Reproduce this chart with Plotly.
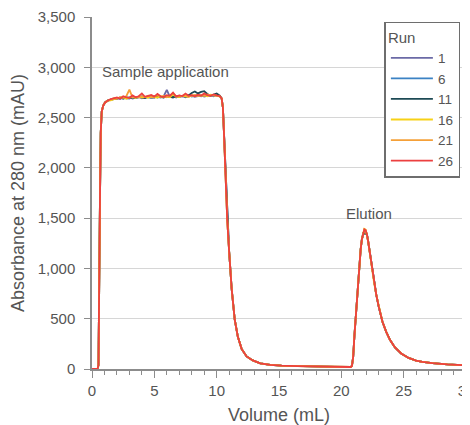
import plotly.graph_objects as go

# ---- data ----
runs = ["1", "6", "11", "16", "21", "26"]
run_colors = ["#6b6aa6", "#3b82c4", "#1d4a55", "#f7d117", "#f5a038", "#ec4040"]

# loading front (shared by all runs)
volume_rise = [0, 0.45, 0.52, 0.58, 0.64, 0.70, 0.78, 0.90, 1.05, 1.25]
absorbance_rise = [0, 0, 40, 600, 1700, 2350, 2560, 2620, 2650, 2668]

# plateau during sample application
volume_plateau = [1.5, 1.75, 2.0, 2.25, 2.5, 2.75, 3.0, 3.25, 3.5, 3.75, 4.0, 4.25,
                  4.5, 4.75, 5.0, 5.25, 5.5, 5.75, 6.0, 6.25, 6.5, 6.75, 7.0, 7.25,
                  7.5, 7.75, 8.0, 8.25, 8.5, 8.75, 9.0, 9.25, 9.5, 9.75, 10.0, 10.25]
plateau_run1 = [2682, 2690, 2685, 2700, 2688, 2695, 2702, 2690, 2698, 2705, 2692, 2700,
                2710, 2696, 2702, 2708, 2698, 2712, 2775, 2705, 2700, 2712, 2704, 2715,
                2702, 2710, 2718, 2706, 2712, 2720, 2710, 2716, 2722, 2712, 2725, 2715]
plateau_run6 = [2678, 2688, 2695, 2684, 2700, 2692, 2688, 2705, 2695, 2700, 2712, 2698,
                2704, 2695, 2712, 2700, 2708, 2702, 2715, 2706, 2712, 2700, 2718, 2708,
                2714, 2722, 2710, 2716, 2724, 2712, 2720, 2726, 2714, 2722, 2718, 2712]
plateau_run11 = [2676, 2686, 2692, 2698, 2690, 2700, 2694, 2702, 2696, 2705, 2700, 2694,
                 2708, 2702, 2698, 2710, 2704, 2700, 2712, 2706, 2702, 2714, 2708, 2716,
                 2710, 2720, 2745, 2760, 2740, 2755, 2762, 2735, 2720, 2728, 2740, 2718]
plateau_run16 = [2672, 2684, 2690, 2696, 2704, 2688, 2698, 2708, 2694, 2710, 2700, 2706,
                 2696, 2714, 2704, 2700, 2712, 2706, 2716, 2702, 2730, 2710, 2704, 2718,
                 2712, 2706, 2720, 2714, 2726, 2716, 2722, 2712, 2728, 2720, 2714, 2710]
plateau_run21 = [2680, 2692, 2688, 2702, 2696, 2712, 2778, 2700, 2706, 2698, 2712, 2704,
                 2716, 2700, 2710, 2722, 2706, 2714, 2702, 2718, 2744, 2708, 2716, 2712,
                 2722, 2710, 2718, 2726, 2714, 2722, 2716, 2730, 2718, 2724, 2716, 2712]
plateau_run26 = [2684, 2690, 2700, 2688, 2712, 2700, 2694, 2720, 2702, 2712, 2740, 2706,
                 2716, 2724, 2708, 2735, 2712, 2704, 2722, 2716, 2748, 2710, 2720, 2714,
                 2738, 2716, 2722, 2712, 2728, 2718, 2740, 2722, 2716, 2730, 2720, 2714]

# wash-out after sample application (shared)
volume_wash = [10.4, 10.5, 10.6, 10.7, 10.85, 11.0, 11.2, 11.45, 11.7, 12.0, 12.4,
               12.9, 13.5, 14.3, 15.2, 16.5, 18.0, 19.5, 20.6, 20.75]
absorbance_wash = [2690, 2600, 2300, 1950, 1480, 1170, 800, 490, 320, 200, 125,
                   85, 57, 42, 33, 28, 24, 21, 20, 20]

# elution peak: rising flank (shared), apex per run, tail (shared)
volume_elution_rise = [20.85, 20.95, 21.05, 21.15, 21.25, 21.35, 21.45, 21.55, 21.65, 21.75]
absorbance_elution_rise = [30, 120, 330, 520, 720, 900, 1060, 1190, 1290, 1350]
volume_apex = [21.85, 21.95]
apex_run1 = [1375, 1368]
apex_run6 = [1380, 1372]
apex_run11 = [1345, 1340]
apex_run16 = [1392, 1385]
apex_run21 = [1390, 1383]
apex_run26 = [1388, 1380]
volume_elution_tail = [22.05, 22.15, 22.3, 22.45, 22.6, 22.8, 23.0, 23.3, 23.6, 23.9,
                       24.3, 24.8, 25.4, 26.0, 26.5, 27.3, 28.5, 30.0]
absorbance_elution_tail = [1340, 1270, 1140, 1000, 880, 740, 620, 470, 370, 290,
                           215, 155, 110, 84, 71, 58, 46, 36]

plateaus = [plateau_run1, plateau_run6, plateau_run11, plateau_run16, plateau_run21, plateau_run26]
apexes = [apex_run1, apex_run6, apex_run11, apex_run16, apex_run21, apex_run26]

y_ticks = [0, 500, 1000, 1500, 2000, 2500, 3000, 3500]
x_ticks = [0, 5, 10, 15, 20, 25, 30]

FONT = "Liberation Sans, Arial, Helvetica, sans-serif"
TEXT = "#555555"
AXIS = "#8c8c8c"

fig = go.Figure()
for name, color, plateau, apex in zip(runs, run_colors, plateaus, apexes):
    x = (volume_rise + volume_plateau + volume_wash + volume_elution_rise
         + volume_apex + volume_elution_tail)
    y = (absorbance_rise + plateau + absorbance_wash + absorbance_elution_rise
         + apex + absorbance_elution_tail)
    fig.add_trace(go.Scatter(x=x, y=y, mode="lines", name=name,
                             line=dict(color=color, width=1.8)))

fig.add_annotation(x=0.65, y=2960, text="Sample application", showarrow=False,
                   xanchor="left", yanchor="middle", font=dict(size=15, color=TEXT, family=FONT))
fig.add_annotation(x=22.25, y=1545, text="Elution", showarrow=False,
                   xanchor="center", yanchor="middle", font=dict(size=15, color=TEXT, family=FONT))

# the page body adds an 8 px offset, so margins are shifted to compensate
fig.update_layout(
    width=470, height=425,
    margin=dict(l=84, r=12, t=9, b=64, autoexpand=False),
    paper_bgcolor="white", plot_bgcolor="white",
    font=dict(family=FONT, size=15, color=TEXT),
    showlegend=True,
    legend=dict(
        title=dict(text="Run", font=dict(size=15, color=TEXT)),
        x=0.985, y=0.987, xanchor="right", yanchor="top",
        bordercolor="#6e6e6e", borderwidth=1.5, bgcolor="white",
        font=dict(size=13.5, color=TEXT), tracegroupgap=0, itemwidth=42,
    ),
    xaxis=dict(
        range=[0, 30], tickvals=x_ticks, ticks="outside", ticklen=7, tickcolor=AXIS,
        tickwidth=1.2, showline=True, linecolor=AXIS, linewidth=1.5, showgrid=False,
        zeroline=False, automargin=False, title=dict(text="Volume (mL)", standoff=11),
        tickfont=dict(size=15, color=TEXT),
        minor=dict(dtick=1, ticks="outside", ticklen=4, tickcolor=AXIS, tickwidth=1.2, showgrid=False),
    ),
    yaxis=dict(
        range=[0, 3500], tickvals=y_ticks, tickformat=",", ticks="outside", ticklen=6,
        tickcolor=AXIS, tickwidth=1.2, showline=True, linecolor=AXIS, linewidth=1.5,
        mirror=True, showgrid=True, gridcolor="#d6d6d6", gridwidth=1, zeroline=False,
        automargin=False,
        title=dict(text="Absorbance at 280 nm (mAU)", standoff=8),
        tickfont=dict(size=15, color=TEXT), ticklabelstandoff=6,
    ),
)

fig.write_html("out.html")
